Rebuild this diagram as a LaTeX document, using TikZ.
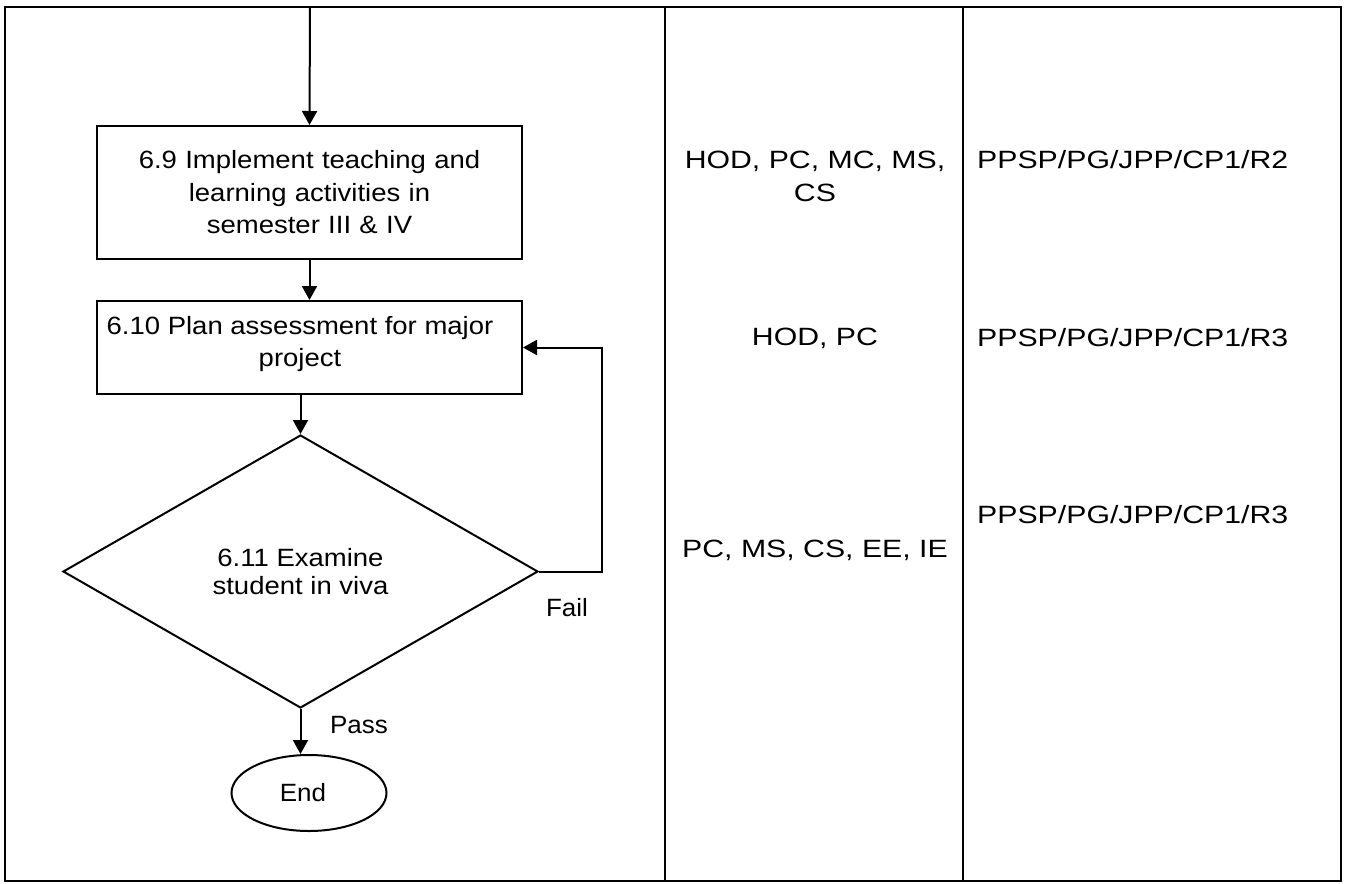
\documentclass[tikz,border=0pt]{standalone}
\usepackage{fontspec}
\setmainfont{Liberation Sans}
\newfontfamily\flowfont[FakeStretch=1.1]{Liberation Sans}
\newfontfamily\colfont[FakeStretch=1.21]{Liberation Sans}
\newfontfamily\lblfont[FakeStretch=1.04]{Liberation Sans}
\usetikzlibrary{shapes.geometric,arrows.meta}
\begin{document}
\begin{tikzpicture}[x=1pt,y=-1pt,
  every node/.style={font=\fontsize{25}{32.5}\selectfont, inner sep=0pt},
  ln/.style={line width=2pt, black},
  box/.style={ln, draw, rectangle, align=center, text width=410pt, font=\fontsize{25}{32.5}\flowfont},
  dia/.style={ln, draw, diamond, align=center, minimum width=475pt, minimum height=273pt, font=\fontsize{25}{28.5}\flowfont},
  term/.style={ln, draw, ellipse, minimum width=155pt, minimum height=76pt, font=\fontsize{25}{30}\lblfont},
  arr/.style={ln, -{Triangle[length=14pt,width=15pt]}},
  lbl/.style={font=\fontsize{25}{30}\lblfont},
  col/.style={align=center, font=\fontsize{25}{33}\colfont}]
\useasboundingbox (0,0) rectangle (1345,884);
\draw[ln] (5,7) rectangle (1341,881);
\coordinate (c1t) at (665,7); \coordinate (c1b) at (665,881);
\coordinate (c2t) at (963,7); \coordinate (c2b) at (963,881);
\draw[ln] (c1t) -- (c1b);
\draw[ln] (c2t) -- (c2b);

\node[box, minimum width=425pt, minimum height=133pt] (b1) at (309.5,192.5)
  {6.9 Implement teaching and\\learning activities in\\semester III \& IV};
\node[box, minimum width=425pt, minimum height=93pt] (b2) at (309.5,347.5) {};
\node[align=center, font=\fontsize{25}{32.5}\flowfont] (t2) at (300,344)
  {6.10 Plan assessment for major\\project};
\node[dia] (d) at (300.5,571.5) {6.11 Examine\\student in viva};
\node[term] (e) at (309,793) {\hspace*{-12pt}End};

\coordinate (top) at (310,7);
\draw[arr] (top) -- (b1.north);
\draw[arr] (b1.south) -- (b2.north);
\draw[arr] (b2.south -| d.north) -- (d.north);
\draw[arr] (d.south) -- (d.south |- e.north);
\draw[arr] (d.east) -- ++(63,0) |- (b2.east);
\node[lbl] (pass) at (359,725) {Pass};
\node[lbl] (fail) at (567,608) {Fail};

\node[col] (r1) at (815,176) {HOD, PC, MC, MS,\\CS};
\node[col] (r2) at (815,338) {HOD, PC};
\node[col] (r3) at (815,550) {PC, MS, CS, EE, IE};
\node[col, anchor=west] (f1) at (977,160) {PPSP/PG/JPP/CP1/R2};
\node[col, anchor=west] (f2) at (977,338) {PPSP/PG/JPP/CP1/R3};
\node[col, anchor=west] (f3) at (977,515) {PPSP/PG/JPP/CP1/R3};
\end{tikzpicture}
\end{document}
